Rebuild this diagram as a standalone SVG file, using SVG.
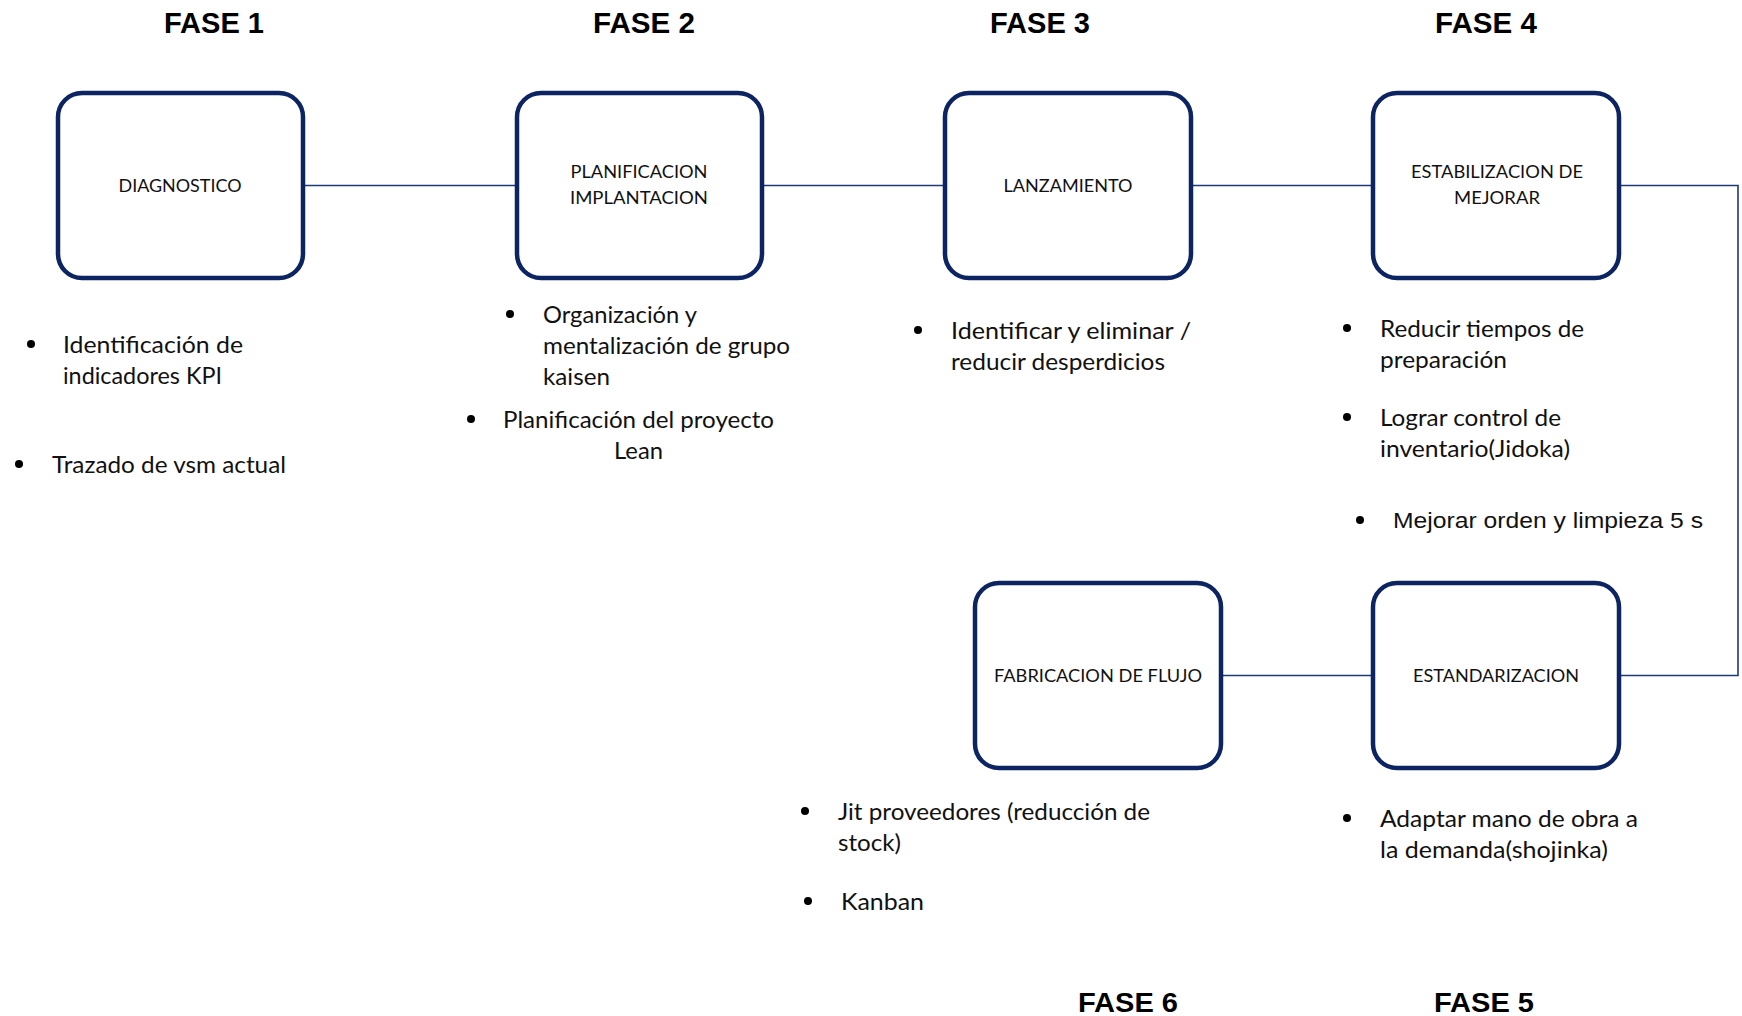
<svg xmlns="http://www.w3.org/2000/svg" width="1742" height="1016" viewBox="0 0 1742 1016">
  <style>
    .box { fill: #ffffff; stroke: #0c2461; stroke-width: 4.5; }
    .link { fill: none; stroke: #1c3a78; stroke-width: 1.6; }
    .title { font-family: "Liberation Sans", Arial, sans-serif; font-weight: bold; font-size: 29px; fill: #000; text-anchor: middle; }
    .title-low { font-size: 27px; }
    .lbl { font-family: Lato, "Liberation Sans", sans-serif; font-size: 18px; fill: #111; text-anchor: middle; }
    .txt { font-family: Lato, "Liberation Sans", sans-serif; font-size: 23px; fill: #111; }
    .arial { font-family: "Liberation Sans", Arial, sans-serif; font-size: 22px; fill: #111; }
    .dot { fill: #000; }
  </style>

  <!-- phase titles -->
  <g id="titles">
    <text class="title" x="214" y="33" textLength="100" lengthAdjust="spacingAndGlyphs">FASE 1</text>
    <text class="title" x="644" y="33" textLength="102" lengthAdjust="spacingAndGlyphs">FASE 2</text>
    <text class="title" x="1040" y="33" textLength="100" lengthAdjust="spacingAndGlyphs">FASE 3</text>
    <text class="title" x="1486" y="33" textLength="102" lengthAdjust="spacingAndGlyphs">FASE 4</text>
    <text class="title title-low" x="1128" y="1012" textLength="100" lengthAdjust="spacingAndGlyphs">FASE 6</text>
    <text class="title title-low" x="1484" y="1012" textLength="100" lengthAdjust="spacingAndGlyphs">FASE 5</text>
  </g>

  <!-- connectors -->
  <g id="connectors">
    <line class="link" x1="303" y1="185.5" x2="517" y2="185.5"/>
    <line class="link" x1="762" y1="185.5" x2="945" y2="185.5"/>
    <line class="link" x1="1191" y1="185.5" x2="1373" y2="185.5"/>
    <polyline class="link" points="1619,185.5 1738,185.5 1738,675.5 1619,675.5"/>
    <line class="link" x1="1373" y1="675.5" x2="1221" y2="675.5"/>
  </g>

  <!-- process boxes -->
  <g id="diagnostico">
    <rect class="box" x="58" y="93" width="245" height="185" rx="24"/>
    <text class="lbl" x="180" y="192" textLength="123" lengthAdjust="spacingAndGlyphs">DIAGNOSTICO</text>
  </g>
  <g id="planificacion">
    <rect class="box" x="517" y="93" width="245" height="185" rx="24"/>
    <text class="lbl" x="639" y="178" textLength="137" lengthAdjust="spacingAndGlyphs">PLANIFICACION</text>
    <text class="lbl" x="639" y="204" textLength="138" lengthAdjust="spacingAndGlyphs">IMPLANTACION</text>
  </g>
  <g id="lanzamiento">
    <rect class="box" x="945" y="93" width="246" height="185" rx="24"/>
    <text class="lbl" x="1068" y="192" textLength="129" lengthAdjust="spacingAndGlyphs">LANZAMIENTO</text>
  </g>
  <g id="estabilizacion">
    <rect class="box" x="1373" y="93" width="246" height="185" rx="24"/>
    <text class="lbl" x="1497" y="178" textLength="172" lengthAdjust="spacingAndGlyphs">ESTABILIZACION DE</text>
    <text class="lbl" x="1497" y="204" textLength="86" lengthAdjust="spacingAndGlyphs">MEJORAR</text>
  </g>
  <g id="estandarizacion">
    <rect class="box" x="1373" y="583" width="246" height="185" rx="24"/>
    <text class="lbl" x="1496" y="682" textLength="166" lengthAdjust="spacingAndGlyphs">ESTANDARIZACION</text>
  </g>
  <g id="fabricacion">
    <rect class="box" x="975" y="583" width="246" height="185" rx="24"/>
    <text class="lbl" x="1098" y="682" textLength="208" lengthAdjust="spacingAndGlyphs">FABRICACION DE FLUJO</text>
  </g>

  <!-- phase 1 notes -->
  <g id="notas-fase1">
    <circle class="dot" cx="31" cy="344" r="4"/>
    <text class="txt" x="63" y="353" textLength="180" lengthAdjust="spacingAndGlyphs">Identificación  de</text>
    <text class="txt" x="63" y="384" textLength="159" lengthAdjust="spacingAndGlyphs">indicadores KPI</text>
    <circle class="dot" cx="19" cy="464" r="4"/>
    <text class="txt" x="52" y="473" textLength="234" lengthAdjust="spacingAndGlyphs">Trazado de vsm actual</text>
  </g>

  <!-- phase 2 notes -->
  <g id="notas-fase2">
    <circle class="dot" cx="510" cy="314" r="4"/>
    <text class="txt" x="543" y="323" textLength="154" lengthAdjust="spacingAndGlyphs">Organización y</text>
    <text class="txt" x="543" y="354" textLength="247" lengthAdjust="spacingAndGlyphs">mentalización de grupo</text>
    <text class="txt" x="543" y="385" textLength="67" lengthAdjust="spacingAndGlyphs">kaisen</text>
    <circle class="dot" cx="471" cy="419" r="4"/>
    <text class="txt" x="503" y="428" textLength="271" lengthAdjust="spacingAndGlyphs">Planificación del proyecto</text>
    <text class="txt" x="614" y="459" textLength="49" lengthAdjust="spacingAndGlyphs">Lean</text>
  </g>

  <!-- phase 3 notes -->
  <g id="notas-fase3">
    <circle class="dot" cx="918" cy="330" r="4"/>
    <text class="txt" x="951" y="339" textLength="240" lengthAdjust="spacingAndGlyphs">Identificar  y eliminar /</text>
    <text class="txt" x="951" y="370" textLength="214" lengthAdjust="spacingAndGlyphs">reducir desperdicios</text>
  </g>

  <!-- phase 4 notes -->
  <g id="notas-fase4">
    <circle class="dot" cx="1347" cy="328" r="4"/>
    <text class="txt" x="1380" y="337" textLength="204" lengthAdjust="spacingAndGlyphs">Reducir tiempos de</text>
    <text class="txt" x="1380" y="368" textLength="127" lengthAdjust="spacingAndGlyphs">preparación</text>
    <circle class="dot" cx="1347" cy="417" r="4"/>
    <text class="txt" x="1380" y="426" textLength="181" lengthAdjust="spacingAndGlyphs">Lograr control de</text>
    <text class="txt" x="1380" y="457" textLength="190" lengthAdjust="spacingAndGlyphs">inventario(Jidoka)</text>
    <circle class="dot" cx="1360" cy="520" r="4"/>
    <text class="arial" x="1393" y="528" textLength="310" lengthAdjust="spacingAndGlyphs">Mejorar orden y limpieza 5 s</text>
  </g>

  <!-- phase 5 notes -->
  <g id="notas-fase5">
    <circle class="dot" cx="1347" cy="818" r="4"/>
    <text class="txt" x="1380" y="827" textLength="258" lengthAdjust="spacingAndGlyphs">Adaptar mano de obra a</text>
    <text class="txt" x="1380" y="858" textLength="228" lengthAdjust="spacingAndGlyphs">la demanda(shojinka)</text>
  </g>

  <!-- phase 6 notes -->
  <g id="notas-fase6">
    <circle class="dot" cx="805" cy="811" r="4"/>
    <text class="txt" x="838" y="820" textLength="312" lengthAdjust="spacingAndGlyphs">Jit proveedores (reducción de</text>
    <text class="txt" x="838" y="851" textLength="63" lengthAdjust="spacingAndGlyphs">stock)</text>
    <circle class="dot" cx="808" cy="901" r="4"/>
    <text class="txt" x="841" y="910" textLength="83" lengthAdjust="spacingAndGlyphs">Kanban</text>
  </g>
</svg>
